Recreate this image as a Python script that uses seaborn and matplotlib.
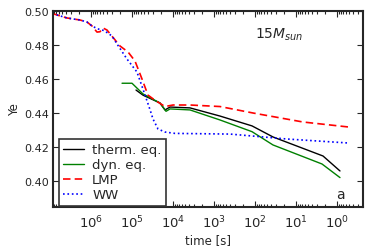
import numpy as np
import pandas as pd
import matplotlib
matplotlib.use("Agg")
import matplotlib.pyplot as plt
import seaborn as sns
from matplotlib.ticker import (FixedLocator, LogLocator, LogFormatterMathtext,
                               MultipleLocator, NullFormatter, FormatStrFormatter)

# time [s] and Ye
therm_t = [7.98e4, 5.39e4, 2.08e4, 1.57e4, 1.18e4, 3.85e3, 714, 118, 36.4, 2.19, 0.845]
therm_ye = [0.4535, 0.4505, 0.4459, 0.4418, 0.4435, 0.4430, 0.4382, 0.4324, 0.4259, 0.4147, 0.4059]

dyn_t = [1.75e5, 1.0e5, 5.39e4, 2.08e4, 1.48e4, 1.18e4, 3.85e3, 714, 118, 36.4, 2.32, 0.845]
dyn_ye = [0.4575, 0.4575, 0.4512, 0.4459, 0.4410, 0.4424, 0.4418, 0.4359, 0.4290, 0.4212, 0.4100, 0.4020]

lmp_t = [7.98e6, 3.85e6, 1.85e6, 1.25e6, 9.46e5, 7.14e5, 6.03e5, 5.09e5, 4.07e5, 1.96e5,
         1.25e5, 8.46e4, 5.7e4, 4.07e4, 2.75e4, 1.57e4, 1.0e4, 3.85e3,
         714, 112, 6.75, 0.54]
lmp_ye = [0.4982, 0.4959, 0.4947, 0.4935, 0.4912, 0.4876, 0.4878, 0.4900, 0.4888, 0.4794,
          0.4759, 0.4706, 0.4600, 0.4505, 0.4475, 0.4438, 0.4447, 0.4447,
          0.4438, 0.4400, 0.4347, 0.4318]

ww_t = [7.98e6, 3.85e6, 1.85e6, 1.25e6, 9.46e5, 6.9e5, 4.8e5, 3.08e5, 2.32e5, 1.33e5,
        7.56e4, 5.39e4, 3.64e4, 3.08e4, 2.32e4, 1.57e4, 8.94e3, 408, 16.6, 0.57]
ww_ye = [0.4982, 0.4959, 0.4947, 0.4935, 0.4912, 0.4895, 0.4885, 0.4853, 0.4806, 0.4718,
         0.4641, 0.4540, 0.4420, 0.4365, 0.4306, 0.4288, 0.4280, 0.4276, 0.4247, 0.4224]

x_major = [1e0, 1e1, 1e2, 1e3, 1e4, 1e5, 1e6]

sns.set_style("ticks")
plt.rcParams["font.family"] = ["DejaVu Sans"]

fig = plt.figure(figsize=(3.74, 2.53), dpi=100)
ax = fig.add_axes([53 / 374, 1 - 208 / 253, 310 / 374, 196 / 253])

sns.lineplot(x=therm_t, y=therm_ye, color="k", lw=1.0, label="therm. eq.", ax=ax)
sns.lineplot(x=dyn_t, y=dyn_ye, color="#008000", lw=1.0, label="dyn. eq.", ax=ax)
l3 = sns.lineplot(x=lmp_t, y=lmp_ye, color="r", lw=1.2, label="LMP", ax=ax).lines[-1]
l3.set_dashes((4.5, 2.5))
l4 = sns.lineplot(x=ww_t, y=ww_ye, color="b", lw=1.2, label="WW", ax=ax).lines[-1]
l4.set_linestyle(":")

ax.set_xscale("log")
ax.set_xlim(8.45e6, 0.232)
ax.set_ylim(0.3847, 0.50)
ax.xaxis.set_major_locator(FixedLocator(x_major))
ax.xaxis.set_major_formatter(LogFormatterMathtext())
ax.xaxis.set_minor_locator(LogLocator(base=10, subs=np.arange(2, 10)))
ax.xaxis.set_minor_formatter(NullFormatter())
ax.yaxis.set_major_locator(MultipleLocator(0.02))
ax.yaxis.set_major_formatter(FormatStrFormatter("%.2f"))

ax.tick_params(which="both", direction="in", top=True, right=True, width=0.8)
ax.tick_params(which="major", length=4)
ax.tick_params(which="minor", length=2)
ax.tick_params(axis="y", labelsize=8, pad=3)
ax.tick_params(axis="x", labelsize=9.5, pad=5)
for s in ax.spines.values():
    s.set_linewidth(1.5)

ax.set_xlabel("time [s]", fontsize=8.5, labelpad=1.5)
ax.set_ylabel("Ye", fontsize=8.5, labelpad=2)

ax.text(0.729, 0.883, r"15$M_{sun}$", transform=ax.transAxes, fontsize=10,
        ha="center", va="center")
ax.text(0.926, 0.066, "a", transform=ax.transAxes, fontsize=10, ha="center", va="center")

leg = ax.legend(loc="lower left", bbox_to_anchor=(0.018, 0.005), borderaxespad=0,
                fontsize=9.5, handlelength=1.6, handletextpad=0.6, labelspacing=0.15,
                borderpad=0.35, fancybox=False, framealpha=1)
leg.get_frame().set_edgecolor("#333333")
leg.get_frame().set_linewidth(1.2)

fig.savefig("out.png", dpi=100)
